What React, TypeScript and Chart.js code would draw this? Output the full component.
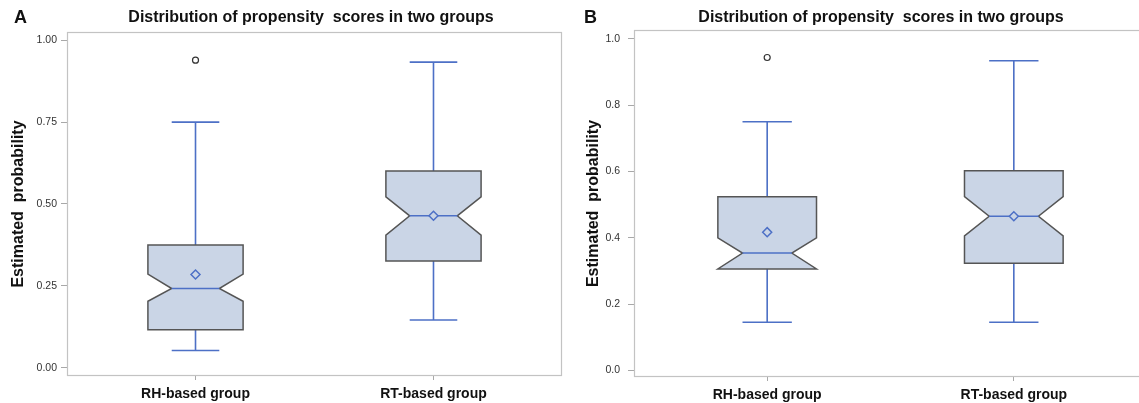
import React, { useEffect, useRef } from "react";
import { Chart, registerables } from "chart.js";

Chart.register(...registerables);

// ---------------- data ----------------
const CATEGORIES = ["RH-based group", "RT-based group"];
const TITLE = "Distribution of propensity  scores in two groups";
const Y_TITLE = "Estimated  probability";

// Panel A
const A_MIN = [0.053, 0.146];
const A_Q1 = [0.116, 0.326];
const A_NOTCH_LO = [0.203, 0.405];
const A_MEDIAN = [0.242, 0.464];
const A_NOTCH_HI = [0.286, 0.522];
const A_Q3 = [0.375, 0.601];
const A_MAX = [0.75, 0.933];
const A_MEAN = [0.285, 0.464];
const A_OUTLIER_GROUP = [1];
const A_OUTLIER_VALUE = [0.939];
const A_TICKS = [0, 0.25, 0.5, 0.75, 1.0];

// Panel B
const B_MIN = [0.145, 0.145];
const B_Q1 = [0.306, 0.323];
const B_NOTCH_LO = [0.306, 0.406];
const B_MEDIAN = [0.354, 0.465];
const B_NOTCH_HI = [0.4, 0.524];
const B_Q3 = [0.524, 0.602];
const B_MAX = [0.75, 0.934];
const B_MEAN = [0.417, 0.465];
const B_OUTLIER_GROUP = [1];
const B_OUTLIER_VALUE = [0.944];
const B_TICKS = [0, 0.2, 0.4, 0.6, 0.8, 1.0];

// ---------------- styles ----------------
const FONT = "'Liberation Sans', Arial, Helvetica, sans-serif";
const BOX_FILL = "#cad5e6";
const BOX_EDGE = "#555555";
const BLUE = "#4d70c6";
const FRAME = "#c3c3c3";
const BOX_HALF = 0.2;
const NOTCH_HALF = 0.1;
const CAP_HALF = 0.1;

const boxPlugin = {
  id: "notchedBox",
  beforeDatasetsDraw(chart: any, _args: any, opts: any) {
    const { ctx, chartArea, scales } = chart;
    const x = scales.x;
    const y = scales.y;
    // frame
    ctx.save();
    ctx.strokeStyle = FRAME;
    ctx.lineWidth = 1.2;
    ctx.strokeRect(
      chartArea.left + 0.5,
      chartArea.top + 0.5,
      chartArea.right - chartArea.left - 1,
      chartArea.bottom - chartArea.top - 1
    );
    const s = opts.stats;
    for (let i = 0; i < s.median.length; i++) {
      const g = i + 1;
      const xc = x.getPixelForValue(g);
      const xl = x.getPixelForValue(g - BOX_HALF);
      const xr = x.getPixelForValue(g + BOX_HALF);
      const nl = x.getPixelForValue(g - NOTCH_HALF);
      const nr = x.getPixelForValue(g + NOTCH_HALF);
      const cl = x.getPixelForValue(g - CAP_HALF);
      const cr = x.getPixelForValue(g + CAP_HALF);
      const yMin = y.getPixelForValue(s.min[i]);
      const yQ1 = y.getPixelForValue(s.q1[i]);
      const yNL = y.getPixelForValue(s.notchLo[i]);
      const yMed = y.getPixelForValue(s.median[i]);
      const yNH = y.getPixelForValue(s.notchHi[i]);
      const yQ3 = y.getPixelForValue(s.q3[i]);
      const yMax = y.getPixelForValue(s.max[i]);

      // whiskers
      ctx.strokeStyle = BLUE;
      ctx.lineWidth = 1.6;
      ctx.beginPath();
      ctx.moveTo(xc, yQ3);
      ctx.lineTo(xc, yMax);
      ctx.moveTo(cl, yMax);
      ctx.lineTo(cr, yMax);
      ctx.moveTo(xc, yQ1);
      ctx.lineTo(xc, yMin);
      ctx.moveTo(cl, yMin);
      ctx.lineTo(cr, yMin);
      ctx.stroke();

      // notched box
      ctx.beginPath();
      ctx.moveTo(xl, yQ3);
      ctx.lineTo(xr, yQ3);
      ctx.lineTo(xr, yNH);
      ctx.lineTo(nr, yMed);
      ctx.lineTo(xr, yNL);
      ctx.lineTo(xr, yQ1);
      ctx.lineTo(xl, yQ1);
      ctx.lineTo(xl, yNL);
      ctx.lineTo(nl, yMed);
      ctx.lineTo(xl, yNH);
      ctx.closePath();
      ctx.fillStyle = BOX_FILL;
      ctx.fill();
      ctx.strokeStyle = BOX_EDGE;
      ctx.lineWidth = 1.5;
      ctx.lineJoin = "miter";
      ctx.stroke();

      // median
      ctx.strokeStyle = BLUE;
      ctx.lineWidth = 1.6;
      ctx.beginPath();
      ctx.moveTo(nl, yMed);
      ctx.lineTo(nr, yMed);
      ctx.stroke();
    }
    ctx.restore();
  },
  afterDraw(chart: any, _args: any, opts: any) {
    const { ctx } = chart;
    ctx.save();
    ctx.fillStyle = "#111";
    ctx.textBaseline = "middle";
    ctx.textAlign = "left";
    ctx.font = `bold 18px ${FONT}`;
    ctx.fillText(opts.letter, 14, 18);
    ctx.textAlign = "center";
    ctx.font = `bold 16px ${FONT}`;
    ctx.fillText(TITLE, opts.titleX, 18);
    ctx.restore();
  },
};

function makeConfig(p: any) {
  return {
    type: "scatter",
    data: {
      datasets: [
        {
          label: "mean",
          data: p.mean.map((v: number, i: number) => ({ x: i + 1, y: v })),
          pointStyle: "rectRot",
          radius: 4.5,
          borderWidth: 1.5,
          borderColor: BLUE,
          backgroundColor: BOX_FILL,
        },
        {
          label: "outliers",
          data: p.outGroup.map((g: number, i: number) => ({ x: g, y: p.outValue[i] })),
          pointStyle: "circle",
          radius: 3,
          borderWidth: 1.2,
          borderColor: "#333",
          backgroundColor: "#fff",
        },
      ],
    },
    options: {
      animation: false,
      responsive: false,
      events: [],
      layout: { padding: { top: p.padTop, right: 8, left: 0, bottom: 0 } },
      plugins: {
        legend: { display: false },
        tooltip: { enabled: false },
        notchedBox: {
          stats: p,
          letter: p.letter,
          titleX: p.titleX,
        },
      },
      scales: {
        x: {
          type: "linear",
          min: 0.46,
          max: 2.54,
          afterBuildTicks: (s: any) => {
            s.ticks = CATEGORIES.map((_c, i) => ({ value: i + 1 }));
          },
          afterFit: (s: any) => {
            s.height = p.xHeight;
          },
          ticks: {
            autoSkip: false,
            maxRotation: 0,
            padding: 6,
            color: "#111",
            font: { family: FONT, size: 14, weight: "bold" },
            callback: (v: number) => CATEGORIES[Math.round(v) - 1] ?? "",
          },
          grid: { drawOnChartArea: false, drawTicks: true, tickLength: 4, color: "#a8a8a8" },
          border: { display: false },
        },
        y: {
          type: "linear",
          min: p.yMin,
          max: p.yMax,
          afterBuildTicks: (s: any) => {
            s.ticks = p.ticks.map((v: number) => ({ value: v }));
          },
          afterFit: (s: any) => {
            s.width = p.yWidth;
          },
          ticks: {
            padding: p.tickPad,
            color: "#333",
            font: { family: FONT, size: 10.5 },
            callback: (v: number) => Number(v).toFixed(p.decimals),
          },
          grid: { drawOnChartArea: false, drawTicks: true, tickLength: 6, color: "#a8a8a8" },
          border: { display: false },
          title: {
            display: true,
            text: Y_TITLE,
            color: "#111",
            font: { family: FONT, size: 16, weight: "bold" },
            padding: { top: p.yTitlePad, bottom: 0 },
          },
        },
      },
    },
    plugins: [boxPlugin],
  };
}

const PANEL_A = {
  letter: "A",
  titleX: 311,
  padTop: 32,
  xHeight: 27,
  yWidth: 67,
  yMin: -0.025,
  yMax: 1.025,
  ticks: A_TICKS,
  decimals: 2,
  tickPad: 4,
  yTitlePad: 9,
  min: A_MIN,
  q1: A_Q1,
  notchLo: A_NOTCH_LO,
  median: A_MEDIAN,
  notchHi: A_NOTCH_HI,
  q3: A_Q3,
  max: A_MAX,
  mean: A_MEAN,
  outGroup: A_OUTLIER_GROUP,
  outValue: A_OUTLIER_VALUE,
};

const PANEL_B = {
  letter: "B",
  titleX: 311,
  padTop: 30,
  xHeight: 26,
  yWidth: 64,
  yMin: -0.02,
  yMax: 1.027,
  ticks: B_TICKS,
  decimals: 1,
  tickPad: 8,
  yTitlePad: 14,
  min: B_MIN,
  q1: B_Q1,
  notchLo: B_NOTCH_LO,
  median: B_MEDIAN,
  notchHi: B_NOTCH_HI,
  q3: B_Q3,
  max: B_MAX,
  mean: B_MEAN,
  outGroup: B_OUTLIER_GROUP,
  outValue: B_OUTLIER_VALUE,
};

export default function App() {
  const refA = useRef<HTMLCanvasElement | null>(null);
  const refB = useRef<HTMLCanvasElement | null>(null);

  useEffect(() => {
    const a = new Chart(refA.current as HTMLCanvasElement, makeConfig(PANEL_A) as any);
    const b = new Chart(refB.current as HTMLCanvasElement, makeConfig(PANEL_B) as any);
    return () => {
      a.destroy();
      b.destroy();
    };
  }, []);

  return (
    <div
      style={{
        position: "absolute",
        left: 0,
        top: 0,
        width: 1139,
        height: 403,
        background: "#fff",
        overflow: "hidden",
      }}
    >
      <div style={{ position: "absolute", left: 0, top: 0, width: 570, height: 403 }}>
        <canvas ref={refA} width={570} height={403} style={{ display: "block" }} />
      </div>
      <div style={{ position: "absolute", left: 570, top: 0, width: 569, height: 403, overflow: "hidden" }}>
        <canvas ref={refB} width={585} height={403} style={{ display: "block" }} />
      </div>
    </div>
  );
}
